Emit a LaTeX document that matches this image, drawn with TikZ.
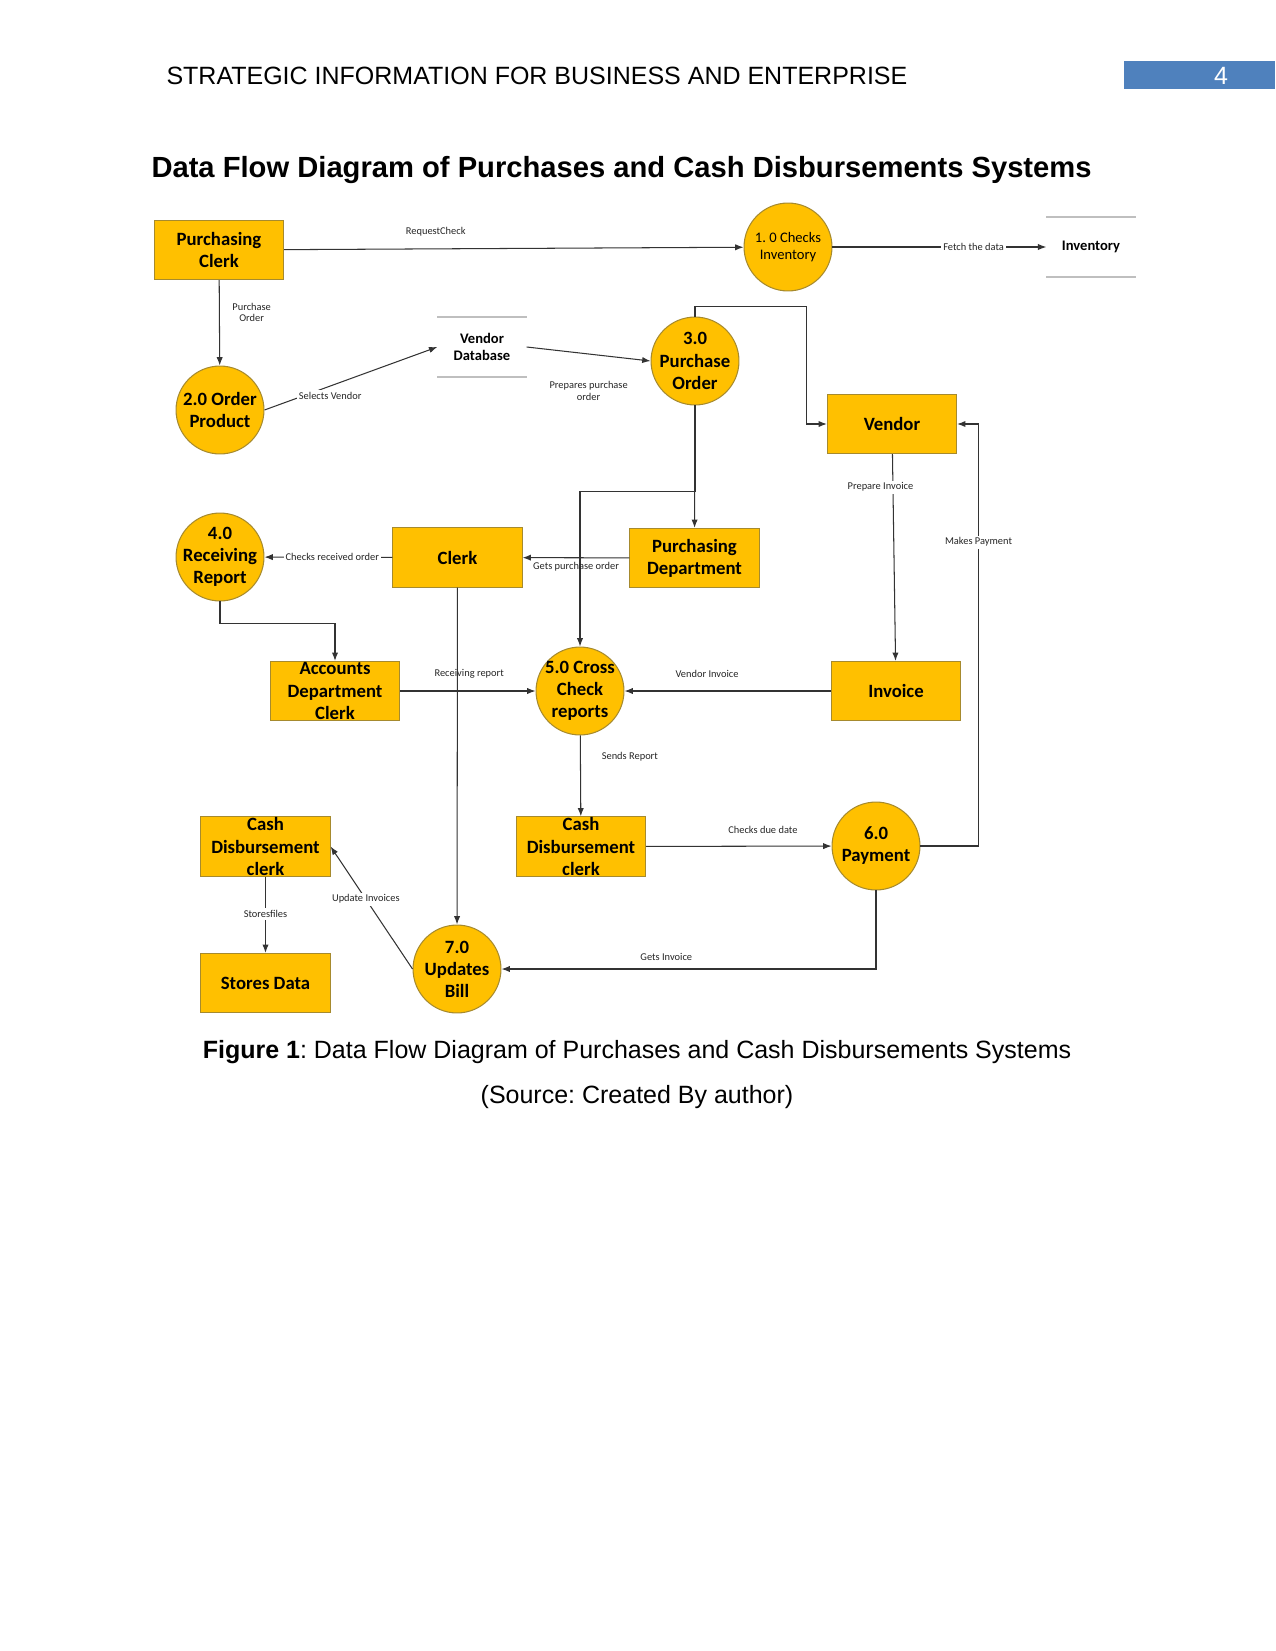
\documentclass[tikz,border=0pt]{standalone}
\usepackage{fontspec}
\setmainfont{Liberation Sans}
\newfontfamily\dfdfont{Carlito}
\usetikzlibrary{arrows.meta}
\frenchspacing

\definecolor{gold}{HTML}{FFC000}
\definecolor{goldedge}{HTML}{A68A2E}
\definecolor{hdrblue}{HTML}{4F81BD}

\begin{document}
\begin{tikzpicture}[
    x=0.48pt, y=-0.48pt,
    every node/.style={inner sep=1pt},
    entity/.style={rectangle, draw=goldedge, fill=gold, line width=0.5pt,
        minimum width=62pt, minimum height=28.4pt, inner ysep=0pt, align=center,
        font=\dfdfont\bfseries\fontsize{9}{10.6}\selectfont},
    process/.style={circle, draw=goldedge, fill=gold, line width=0.5pt,
        minimum size=42.2pt, inner sep=0pt},
    proctext/.style={align=center, font=\dfdfont\bfseries\fontsize{9}{10.6}\selectfont},
    datastore/.style={minimum width=42.5pt, minimum height=28.4pt, align=center,
        font=\dfdfont\bfseries\fontsize{7}{8}\selectfont},
    storeline/.style={draw=black!25, line width=0.5pt},
    flow/.style={draw=black!80, line width=0.5pt, -{Latex[length=4pt,width=3pt]}},
    lbl/.style={font=\dfdfont\fontsize{5}{5.6}\selectfont, text=black!85, align=center}
]
    \useasboundingbox (0,0) rectangle (1275,1651);

    % --- Page header ---
    \node[anchor=west, font=\fontsize{12}{14}\selectfont] (hdr) at (164,76)
        {STRATEGIC INFORMATION FOR BUSINESS AND ENTERPRISE};
    \fill[hdrblue] (1124,61) rectangle (1275,89);
    \node[text=white, font=\fontsize{12}{14}\selectfont] (pgnum) at (1221,76) {4};

    \node[anchor=west, font=\bfseries\fontsize{14}{16}\selectfont] (title) at (149,170)
        {Data Flow Diagram of Purchases and Cash Disbursements Systems};

    % --- Entities (boxes) ---
    \node[entity] (pclerk)  at (219,250)     {Purchasing\\Clerk};
    \node[entity] (vendor)  at (892,424)     {Vendor};
    \node[entity] (clerk)   at (457.5,557.5) {Clerk};
    \node[entity] (pdept)   at (694.5,558)   {Purchasing\\Department};
    \node[entity] (acct)    at (335,691)     {Accounts\\Department\\Clerk};
    \node[entity] (invoice) at (896,691)     {Invoice};
    \node[entity] (cdcl)    at (265.5,846.5) {Cash\\Disbursement\\clerk};
    \node[entity] (cdcr)    at (581,846.5)   {Cash\\Disbursement\\clerk};
    \node[entity] (stores)  at (265.5,983)   {Stores Data};

    % --- Processes (circles) ---
    \node[process] (chk)   at (788,247) {};
    \node[process] (ord)   at (220,410) {};
    \node[process] (po)    at (695,361) {};
    \node[process] (rr)    at (220,557) {};
    \node[process] (cross) at (580,691) {};
    \node[process] (pay)   at (876,846) {};
    \node[process] (bill)  at (457,969) {};

    \node[align=center, font=\dfdfont\fontsize{7}{8.2}\selectfont] (chk txt) at (chk) {1. 0 Checks\\Inventory};
    \node[proctext] (ord txt)   at (ord)   {2.0 Order\\Product};
    \node[proctext] (po txt)    at (po)    {3.0\\Purchase\\Order};
    \node[proctext] (rr txt)    at (rr)    {4.0\\Receiving\\Report};
    \node[proctext] (cross txt) at (cross) {5.0 Cross\\Check\\reports};
    \node[proctext] (pay txt)   at (pay)   {6.0\\Payment};
    \node[proctext] (bill txt)  at (bill)  {7.0\\Updates\\Bill};

    % --- Data stores ---
    \node[datastore] (invstore) at (1091,247) {Inventory};
    \node[datastore] (vdb) at (482,347) {Vendor\\Database};
    \draw[storeline] (invstore.north west) -- (invstore.north east)
                     (invstore.south west) -- (invstore.south east);
    \draw[storeline] (vdb.north west) -- (vdb.north east)
                     (vdb.south west) -- (vdb.south east);

    % --- Data flows ---
    \draw[flow] (pclerk) -- node[lbl, pos=.33, above=5pt] {RequestCheck} (chk);
    \draw[flow] (chk) -- node[lbl, pos=.66, fill=white] {Fetch the data} (invstore);
    \draw[flow] (pclerk) -- node[lbl, pos=.38, right=5pt] {Purchase\\Order} (ord);
    \draw[flow] (ord.east) -- node[lbl, pos=.38, yshift=-4.8pt, fill=white] {Selects Vendor} (vdb.west);
    \draw[flow] (vdb.east) -- node[lbl, pos=.5, below=12pt] {Prepares purchase\\order} (po.west);
    \draw[flow] (po.north) -- ++(0,-10) -| ([xshift=-10pt]vendor.west) -- (vendor.west);
    \draw[flow] (pay.east) -- ++(58,0) |- node[lbl, pos=.36, fill=white] {Makes Payment} (vendor.east);
    \draw[flow] (vendor) -- node[lbl, pos=.16, xshift=-6pt, fill=white] {Prepare Invoice} (invoice);
    \draw[flow] (invoice) -- node[lbl, pos=.6, above=5pt] {Vendor Invoice} (cross);
    \draw[flow] (po) -- (pdept);
    \draw[flow] (po.south) -- ++(0,86) -| (cross.north);
    \draw[flow] (pdept) -- node[lbl, pos=.5, below=1pt] {Gets purchase order} (clerk);
    \draw[flow] (clerk) -- node[lbl, pos=.47, fill=white] {Checks received order} (rr);
    \draw[flow] (rr.south) -- ++(0,22) -| (acct.north);
    \draw[flow] (acct) -- node[lbl, pos=.51, above=5pt] {Receiving report} (cross);
    \draw[flow] (clerk) -- (bill);
    \draw[flow] (cross) -- node[lbl, pos=.26, right=9pt] {Sends Report} (cdcr);
    \draw[flow] (cdcr) -- node[lbl, pos=.63, above=5pt] {Checks due date} (pay);
    \draw[flow] (pay.south) |- node[lbl, pos=.78, above=3pt] {Gets Invoice} (bill.east);
    \draw[flow] (bill.west) -- node[lbl, pos=.57, fill=white] {Update Invoices} (cdcl.east);
    \draw[flow] (cdcl) -- node[lbl, pos=.49, fill=white] {Storesfiles} (stores);

    % --- Caption ---
    \node[font=\fontsize{12}{14}\selectfont] (cap) at (637,1052)
        {\textbf{Figure 1}: Data Flow Diagram of Purchases and Cash Disbursements Systems};
    \node[font=\fontsize{12}{14}\selectfont] (src) at (637,1097) {(Source: Created By author)};

\end{tikzpicture}
\end{document}
